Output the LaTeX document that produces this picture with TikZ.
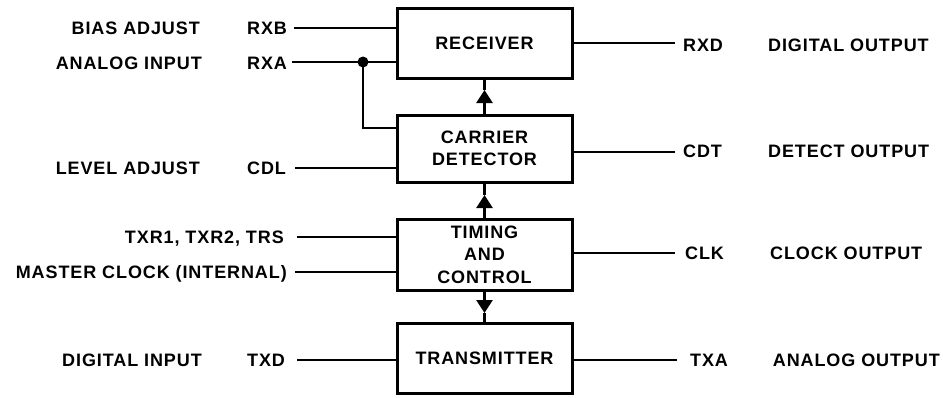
\documentclass[tikz,border=0pt]{standalone}
\usepackage{fontspec}
\newfontfamily\labfont{Liberation Sans}[LetterSpace=5]
\usetikzlibrary{arrows.meta}
\begin{document}
\begin{tikzpicture}[x=1pt,y=-1pt,
  font=\labfont\bfseries\fontsize{18}{22.5}\selectfont,
  blk/.style={draw,line width=3pt,minimum width=175pt,align=center,inner sep=0pt},
  lbl/.style={inner sep=0pt},
  wire/.style={line width=1.8pt},
  link/.style={line width=2.6pt},
  tip/.style={link,-{Triangle[width=16pt,length=13pt]}}]
\useasboundingbox (0,0) rectangle (943,397);
% blocks
\node[blk,minimum height=70pt] (rec) at (484.5,43) {RECEIVER};
\node[blk,minimum height=67pt] (det) at (484.5,148.5) {CARRIER\\DETECTOR};
\node[blk,minimum height=71pt] (tim) at (484.5,254.5) {TIMING\\AND\\CONTROL};
\node[blk,minimum height=70pt] (tx) at (484.5,358) {TRANSMITTER};
% inter-block arrows
\coordinate (a1) at (484.5,90);
\coordinate (a2) at (484.5,195);
\coordinate (a3) at (484.5,313);
\draw[tip] (det.north) -- (a1);
\draw[link] (a1) -- (rec.south);
\draw[tip] (tim.north) -- (a2);
\draw[link] (a2) -- (det.south);
\draw[tip] (tim.south) -- (a3);
\draw[link] (a3) -- (tx.north);
% left labels
\node[lbl,anchor=base east] (l1) at (200,34.5) {BIAS ADJUST};
\node[lbl,anchor=base west] (p1) at (247,34.5) {RXB};
\node[lbl,anchor=base east] (l2) at (202,69.5) {ANALOG INPUT};
\node[lbl,anchor=base west] (p2) at (247,69.5) {RXA};
\node[lbl,anchor=base east] (l3) at (200,174.5) {LEVEL ADJUST};
\node[lbl,anchor=base west] (p3) at (247,174.5) {CDL};
\node[lbl,anchor=base east] (p4) at (284,243.5) {TXR1, TXR2, TRS};
\node[lbl,anchor=base east] (p5) at (287,278.5) {MASTER CLOCK (INTERNAL)};
\node[lbl,anchor=base east] (l6) at (202,366.5) {DIGITAL INPUT};
\node[lbl,anchor=base west] (p6) at (247,366.5) {TXD};
% left wires
\coordinate (w1) at (294,28);
\coordinate (w2) at (292,62);
\coordinate (w3) at (295,168);
\coordinate (w4) at (297,237);
\coordinate (w5) at (295,272);
\coordinate (w6) at (297,360);
\coordinate (dot) at (363,62);
\draw[wire] (w1) -- (w1 -| rec.west);
\draw[wire] (w2) -- (w2 -| rec.west);
\draw[wire] (w3) -- (w3 -| det.west);
\draw[wire] (w4) -- (w4 -| tim.west);
\draw[wire] (w5) -- (w5 -| tim.west);
\draw[wire] (w6) -- (w6 -| tx.west);
\draw[wire] (dot) |- (det.west |- 0,128);
\fill (dot) circle (5.5pt);
% right wires
\coordinate (r1) at (675,43);
\coordinate (r2) at (675,152);
\coordinate (r3) at (675,253);
\coordinate (r4) at (677,360);
\draw[wire] (r1 -| rec.east) -- (r1);
\draw[wire] (r2 -| det.east) -- (r2);
\draw[wire] (r3 -| tim.east) -- (r3);
\draw[wire] (r4 -| tx.east) -- (r4);
% right labels
\node[lbl,anchor=base west] (q1) at (683,51) {RXD};
\node[lbl,anchor=base west] (o1) at (768,51) {DIGITAL OUTPUT};
\node[lbl,anchor=base west] (q2) at (683,157) {CDT};
\node[lbl,anchor=base west] (o2) at (768,157) {DETECT OUTPUT};
\node[lbl,anchor=base west] (q3) at (685,259) {CLK};
\node[lbl,anchor=base west] (o3) at (770,259) {CLOCK OUTPUT};
\node[lbl,anchor=base west] (q4) at (690,366) {TXA};
\node[lbl,anchor=base east] (o4) at (940,366) {ANALOG OUTPUT};
\end{tikzpicture}
\end{document}
